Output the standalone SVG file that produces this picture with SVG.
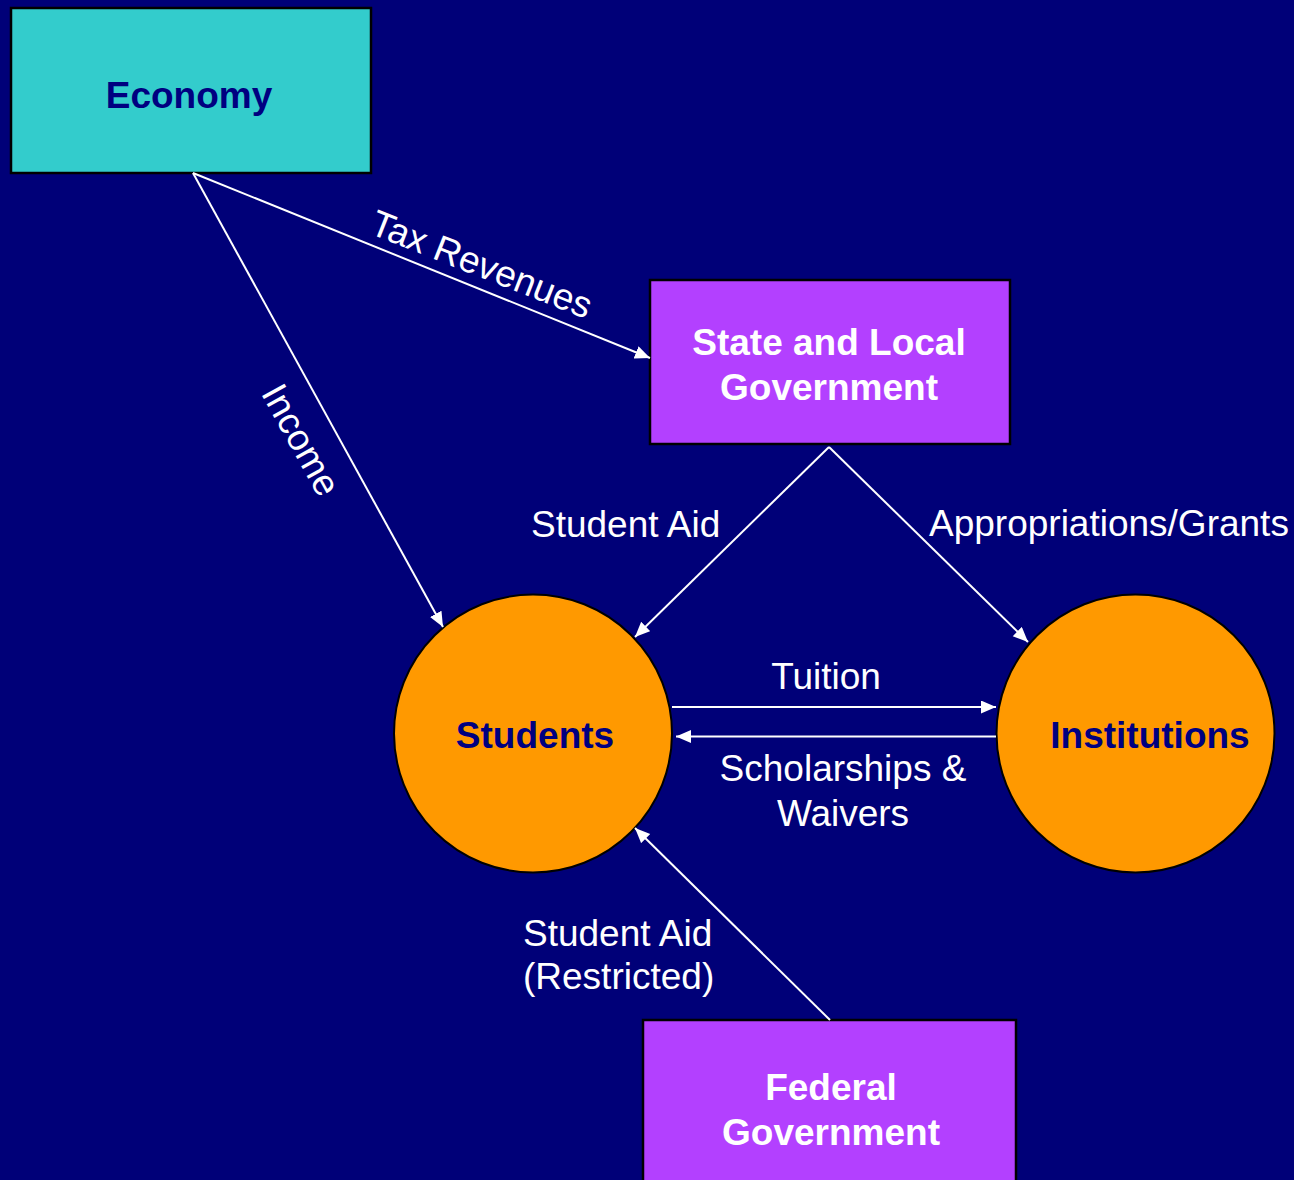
<svg xmlns="http://www.w3.org/2000/svg" width="1294" height="1180" viewBox="0 0 1294 1180">
<style>
.box{stroke:#000;stroke-width:2.5}
.econ{fill:#33CCCC}
.gov{fill:#B340FF}
.circ{fill:#FF9900;stroke:#000;stroke-width:2}
.lbl{font-family:"Liberation Sans",Arial,sans-serif;font-size:37px;fill:#fff}
.nt{font-family:"Liberation Sans",Arial,sans-serif;font-size:37px;font-weight:bold;text-anchor:middle}
.dark{fill:#000080}
.white{fill:#fff}
.conn line{stroke:#fff;stroke-width:2;marker-end:url(#ah)}
</style>
<defs>
<marker id="ah" markerUnits="userSpaceOnUse" markerWidth="16" markerHeight="14" refX="15" refY="6.5" orient="auto">
<path d="M0,0 L15,6.5 L0,13 Z" fill="#fff"/>
</marker>
</defs>
<rect width="1294" height="1180" fill="#000078"/>
<g id="economy">
<rect class="box econ" x="11" y="8" width="360" height="165"/>
<text class="nt dark" x="189" y="108">Economy</text>
</g>
<g id="state">
<rect class="box gov" x="650" y="280" width="360" height="164"/>
<text class="nt white" x="829" y="355">State and Local</text>
<text class="nt white" x="829" y="400">Government</text>
</g>
<g id="students">
<circle class="circ" cx="533" cy="733.5" r="139"/>
<text class="nt dark" x="535" y="748">Students</text>
</g>
<g id="institutions">
<circle class="circ" cx="1135.5" cy="733.5" r="139"/>
<text class="nt dark" x="1150" y="748">Institutions</text>
</g>
<g id="federal">
<rect class="box gov" x="643" y="1020" width="373" height="170"/>
<text class="nt white" x="831" y="1100">Federal</text>
<text class="nt white" x="831" y="1145">Government</text>
</g>
<g id="connectors" class="conn">
<line x1="193" y1="173" x2="650" y2="358"/>
<line x1="193" y1="173" x2="443" y2="627"/>
<line x1="829" y1="447" x2="635" y2="637"/>
<line x1="829" y1="447" x2="1028" y2="642"/>
<line x1="672" y1="707" x2="996" y2="707"/>
<line x1="996" y1="736.5" x2="676" y2="736.5"/>
<line x1="830" y1="1020" x2="635" y2="828"/>
</g>
<g id="labels">
<text class="lbl" text-anchor="middle" x="477" y="276" transform="rotate(21.5 477 276)">Tax Revenues</text>
<text class="lbl" text-anchor="middle" x="290" y="446" transform="rotate(61 290 446)">Income</text>
<text class="lbl" x="531" y="537">Student Aid</text>
<text class="lbl" x="929" y="536">Appropriations/Grants</text>
<text class="lbl" text-anchor="middle" x="826" y="689">Tuition</text>
<text class="lbl" text-anchor="middle" x="843" y="781">Scholarships &amp;</text>
<text class="lbl" text-anchor="middle" x="843" y="826">Waivers</text>
<text class="lbl" x="523" y="946">Student Aid</text>
<text class="lbl" x="523" y="989">(Restricted)</text>
</g>
</svg>
